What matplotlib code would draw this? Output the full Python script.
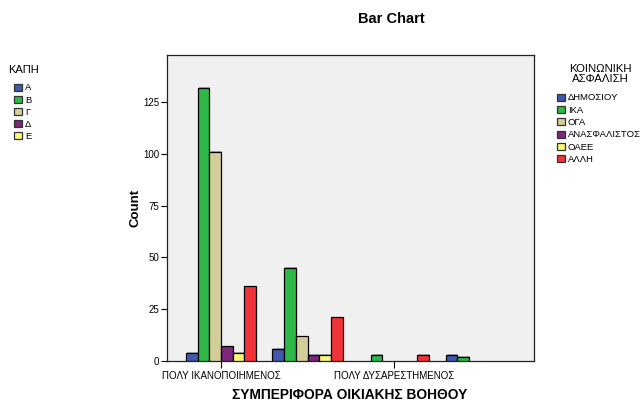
import numpy as np
import matplotlib
matplotlib.use("Agg")
import matplotlib.pyplot as plt
from matplotlib.patches import Patch

plt.rcParams['font.family'] = ['Liberation Sans', 'DejaVu Sans']

# data
groups = ["ΠΟΛΥ ΙΚΑΝΟΠΟΙΗΜΕΝΟΣ", "", "ΠΟΛΥ ΔΥΣΑΡΕΣΤΗΜΕΝΟΣ", ""]
insurance = ["ΔΗΜΟΣΙΟΥ", "ΙΚΑ", "ΟΓΑ", "ΑΝΑΣΦΑΛΙΣΤΟΣ", "ΟΑΕΕ", "ΑΛΛΗ"]
kapi = ["Α", "Β", "Γ", "Δ", "Ε"]
counts = {
    "ΔΗΜΟΣΙΟΥ":     [4, 6, 0, 3],
    "ΙΚΑ":          [132, 45, 3, 2],
    "ΟΓΑ":          [101, 12, 0, 0],
    "ΑΝΑΣΦΑΛΙΣΤΟΣ": [7, 3, 0, 0],
    "ΟΑΕΕ":         [4, 3, 0, 0],
    "ΑΛΛΗ":         [36, 21, 3, 0],
}
colors = ["#3E58AC", "#2EB848", "#D3CE97", "#7B287D", "#FBF873", "#EF3338"]

W, H = 642, 401
fig = plt.figure(figsize=(6.42, 4.01), dpi=100)
ax = fig.add_axes([0.260, 0.0998, 0.572, 0.763])
ax.set_facecolor("#F0F0F0")

x = np.arange(len(groups))
w = 0.135
for i, name in enumerate(insurance):
    vals = np.array(counts[name], dtype=float)
    pos = x - 2.5 * w + i * w
    mask = vals > 0
    # faint shadow
    ax.bar(pos[mask] + 0.012, vals[mask] + 0.6, width=w, bottom=-0.3,
           color="#AAAAAA", edgecolor="none", zorder=2)
    ax.bar(pos[mask], vals[mask], width=w, color=colors[i],
           edgecolor="black", linewidth=0.9, zorder=3)

ax.set_xlim(-0.624, 3.618)
ax.set_ylim(0, 147.7)
ax.set_yticks([0, 25, 50, 75, 100, 125])
ax.tick_params(axis="y", labelsize=7, length=4, width=0.8, pad=1.5)
ax.set_xticks([0, 2])
ax.set_xticklabels([groups[0], groups[2]], fontsize=7)
ax.tick_params(axis="x", length=5, width=0.8, pad=2)
for s in ax.spines.values():
    s.set_linewidth(0.9)
    s.set_color("#222222")

ax.set_ylabel("Count", fontsize=9.5, fontweight="bold", labelpad=1)
fig.text(350 / W, 1 - 395 / H, "ΣΥΜΠΕΡΙΦΟΡΑ ΟΙΚΙΑΚΗΣ ΒΟΗΘΟΥ", ha="center", va="center",
         fontsize=9.9, fontweight="bold")
fig.text(391 / W, 1 - 19 / H, "Bar Chart", ha="center", va="center", fontsize=10.5,
         fontweight="bold")

# left legend
fig.text(8 / W, 1 - 70 / H, "ΚΑΠΗ", ha="left", va="center", fontsize=8)
h1 = [Patch(facecolor=c, edgecolor="#333333", linewidth=0.9) for c in colors[:5]]
fig.legend(h1, kapi, loc="upper left", bbox_to_anchor=(14 / W, 1 - 83.5 / H),
           frameon=False, fontsize=6.8, borderpad=0, borderaxespad=0,
           handlelength=0.8, handleheight=0.8, handletextpad=0.35,
           labelspacing=0.33)

# right legend
fig.text(600 / W, 1 - 73.5 / H, "ΚΟΙΝΩΝΙΚΗ\nΑΣΦΑΛΙΣΗ", ha="center", va="center",
         fontsize=8.2, multialignment="center", linespacing=1.0)
h2 = [Patch(facecolor=c, edgecolor="#333333", linewidth=0.9) for c in colors]
fig.legend(h2, insurance, loc="upper left", bbox_to_anchor=(557 / W, 1 - 93.5 / H),
           frameon=False, fontsize=6.8, borderpad=0, borderaxespad=0,
           handlelength=0.8, handleheight=0.8, handletextpad=0.35,
           labelspacing=0.35)

fig.savefig("out.png", dpi=100)
